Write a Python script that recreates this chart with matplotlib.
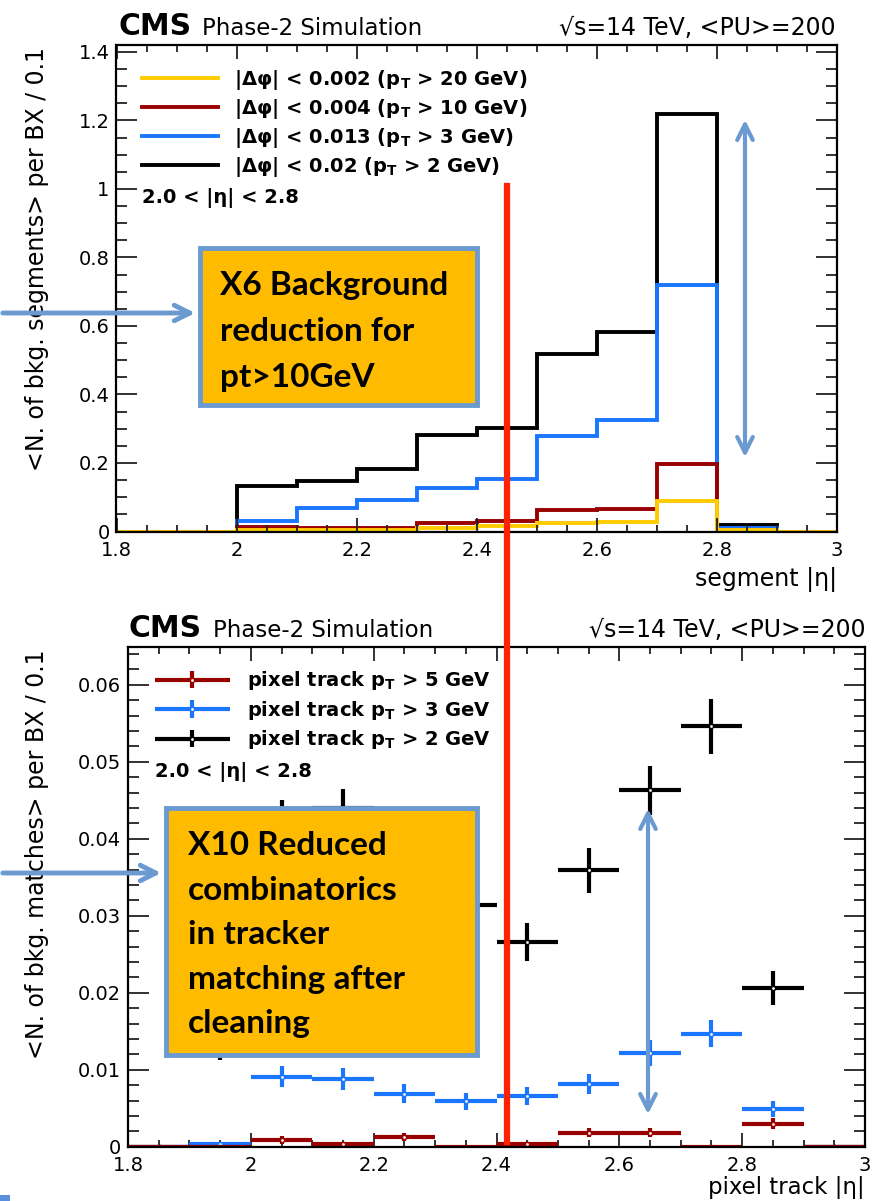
import matplotlib
matplotlib.use('Agg')
import matplotlib.pyplot as plt
from matplotlib.patches import Rectangle, FancyArrowPatch
from matplotlib.lines import Line2D
from matplotlib.ticker import MultipleLocator, FuncFormatter
from matplotlib.container import ErrorbarContainer
from matplotlib.legend_handler import HandlerErrorbar

plt.rcParams['font.family'] = ['DejaVu Sans']
plt.rcParams['mathtext.fontset'] = 'dejavusans'

W, H = 874, 1201

# top panel: background segments per eta bin
seg_edges = [1.8, 1.9, 2.0, 2.1, 2.2, 2.3, 2.4, 2.5, 2.6, 2.7, 2.8, 2.9, 3.0]
seg_dphi_0002 = [0, 0, 0.005, 0.003, 0.004, 0.010, 0.016, 0.026, 0.027, 0.089, 0.003, 0]
seg_dphi_0004 = [0, 0, 0.012, 0.009, 0.009, 0.024, 0.032, 0.063, 0.066, 0.198, 0.005, 0]
seg_dphi_0013 = [0, 0, 0.032, 0.068, 0.092, 0.126, 0.153, 0.280, 0.324, 0.720, 0.010, 0]
seg_dphi_002 = [0, 0, 0.132, 0.146, 0.182, 0.283, 0.302, 0.519, 0.583, 1.220, 0.018, 0]
seg_labels = [r'|Δφ| < 0.002 ($\mathbf{p}_{\mathbf{T}}$ > 20 GeV)',
              r'|Δφ| < 0.004 ($\mathbf{p}_{\mathbf{T}}$ > 10 GeV)',
              r'|Δφ| < 0.013 ($\mathbf{p}_{\mathbf{T}}$ > 3 GeV)',
              r'|Δφ| < 0.02 ($\mathbf{p}_{\mathbf{T}}$ > 2 GeV)']

# bottom panel: background matches per eta bin
trk_eta = [1.85, 1.95, 2.05, 2.15, 2.25, 2.35, 2.45, 2.55, 2.65, 2.75, 2.85, 2.95]
trk_pt5 = [0, 0, 0.0009, 0.0003, 0.0013, 0, 0.0003, 0.0018, 0.0018, 0, 0.0030, 0]
trk_pt5_err = [0, 0, 0.0005, 0.0003, 0.0005, 0, 0.0003, 0.0006, 0.0006, 0, 0.0007, 0]
trk_pt3 = [0, 0.0003, 0.0091, 0.0088, 0.0069, 0.0059, 0.0066, 0.0081, 0.0122, 0.0147, 0.0049, 0]
trk_pt3_err = [0, 0.0003, 0.0014, 0.0014, 0.0012, 0.0011, 0.0012, 0.0013, 0.0017, 0.0018, 0.0010, 0]
trk_pt2 = [0, 0.0145, 0.0425, 0.0440, 0.0380, 0.0314, 0.0266, 0.0359, 0.0463, 0.0546, 0.0206, 0]
trk_pt2_err = [0, 0.0032, 0.0025, 0.0025, 0.0024, 0.0023, 0.0025, 0.0029, 0.0032, 0.0036, 0.0022, 0]
trk_labels = [r'pixel track $\mathbf{p}_{\mathbf{T}}$ > 5 GeV',
              r'pixel track $\mathbf{p}_{\mathbf{T}}$ > 3 GeV',
              r'pixel track $\mathbf{p}_{\mathbf{T}}$ > 2 GeV']

c_yel, c_red, c_blue, c_blk = '#FFCC00', '#990000', '#1A75FF', 'black'
c_note = '#6A9AD0'
c_box = '#FFBB00'


def fx(x):
    return x / W


def fy(y):
    return 1 - y / H


def root_style(ax, xmaj, xmin, ymaj, ymin):
    ax.xaxis.set_major_locator(MultipleLocator(xmaj))
    ax.xaxis.set_minor_locator(MultipleLocator(xmin))
    ax.yaxis.set_major_locator(MultipleLocator(ymaj))
    ax.yaxis.set_minor_locator(MultipleLocator(ymin))
    fmt = FuncFormatter(lambda v, p: '%g' % round(v, 4))
    ax.xaxis.set_major_formatter(fmt)
    ax.yaxis.set_major_formatter(fmt)
    ax.tick_params(which='both', direction='in', top=True, right=True,
                   width=1.3, labelsize=14, color='#222222')
    ax.tick_params(axis='y', which='major', length=15, pad=5)
    ax.tick_params(axis='y', which='minor', length=8)
    ax.tick_params(axis='x', which='major', length=10, pad=7)
    ax.tick_params(axis='x', which='minor', length=5)
    for s in ax.spines.values():
        s.set_linewidth(1.6)


def header(y, x0, x1):
    fig.text(fx(x0), fy(y), 'CMS', fontsize=21.5, fontweight='bold', va='baseline')
    fig.text(fx(x0 + 84), fy(y), 'Phase-2 Simulation', fontsize=16.5, va='baseline')
    fig.text(fx(x1), fy(y), '√s=14 TeV, <PU>=200', fontsize=17, va='baseline', ha='right')


fig = plt.figure(figsize=(W / 100, H / 100), dpi=100)

# ---------- top panel ----------
ax1 = fig.add_axes([fx(116.5), fy(531.5), 720.5 / W, 486.5 / H])
h_blk = ax1.stairs(seg_dphi_002, seg_edges, color=c_blk, lw=2.8, label=seg_labels[3])
h_blue = ax1.stairs(seg_dphi_0013, seg_edges, color=c_blue, lw=2.8, label=seg_labels[2])
h_red = ax1.stairs(seg_dphi_0004, seg_edges, color=c_red, lw=2.8, label=seg_labels[1])
h_yel = ax1.stairs(seg_dphi_0002, seg_edges, color=c_yel, lw=2.8, label=seg_labels[0])
ax1.set_xlim(1.8, 3.0)
ax1.set_ylim(0, 1.42)
root_style(ax1, 0.2, 0.05, 0.2, 0.05)
ax1.legend(handles=[h_yel, h_red, h_blue, h_blk], loc='upper left',
           bbox_to_anchor=(0.035, 0.953), frameon=False, borderpad=0,
           borderaxespad=0, handlelength=3.9, handletextpad=0.85,
           labelspacing=0.26, prop={'size': 14, 'weight': 'bold'})
ax1.text(0.035, (531.5 - 203) / 486.5, '2.0 < |η| < 2.8', transform=ax1.transAxes,
         fontsize=14, fontweight='bold', va='baseline')
ax1.set_ylabel('<N. of bkg. segments> per BX / 0.1', loc='top', fontsize=17)
ax1.yaxis.set_label_coords(-0.094, 0.995)
ax1.set_xlabel('segment |η|', loc='right', fontsize=17)
ax1.xaxis.set_label_coords(1.0, -0.072)
header(35, 118, 836)

# ---------- bottom panel ----------
ax2 = fig.add_axes([fx(128), fy(1146.7), 737 / W, 499.7 / H])
e_blk = ax2.errorbar(trk_eta, trk_pt2, xerr=0.05, yerr=trk_pt2_err, fmt='o', ms=3,
                     mfc='white', mec=c_blk, color=c_blk, elinewidth=3, capsize=0,
                     label=trk_labels[2])
e_blue = ax2.errorbar(trk_eta, trk_pt3, xerr=0.05, yerr=trk_pt3_err, fmt='o', ms=3,
                      mfc='white', mec=c_blue, color=c_blue, elinewidth=3, capsize=0,
                      label=trk_labels[1])
e_red = ax2.errorbar(trk_eta, trk_pt5, xerr=0.05, yerr=trk_pt5_err, fmt='o', ms=3,
                     mfc='white', mec=c_red, color=c_red, elinewidth=3, capsize=0,
                     label=trk_labels[0])
ax2.set_xlim(1.8, 3.0)
ax2.set_ylim(0, 0.0649)
root_style(ax2, 0.2, 0.05, 0.01, 0.002)
ax2.legend(handles=[e_red, e_blue, e_blk], loc='upper left',
           bbox_to_anchor=(0.036, 0.955), frameon=False, borderpad=0,
           borderaxespad=0, handlelength=3.9, handletextpad=0.85,
           labelspacing=0.33, prop={'size': 14, 'weight': 'bold'},
           handler_map={ErrorbarContainer: HandlerErrorbar(xerr_size=1.95, yerr_size=0.45)})
ax2.text(0.036, (1146.7 - 777) / 499.7, '2.0 < |η| < 2.8', transform=ax2.transAxes,
         fontsize=14, fontweight='bold', va='baseline')
ax2.set_ylabel('<N. of bkg. matches> per BX / 0.1', loc='top', fontsize=17)
ax2.yaxis.set_label_coords(-0.107, 0.995)
ax2.set_xlabel('pixel track |η|', loc='right', fontsize=16.5)
ax2.xaxis.set_label_coords(1.0, -0.058)
header(637, 129, 866)

# ---------- slide annotations ----------
notes = [
    ((200, 248, 477, 405), 220, 295, 46, ['X6 Background', 'reduction for', 'pt>10GeV'], 313),
    ((166, 808, 477, 1055), 188, 855, 44.5,
     ['X10 Reduced', 'combinatorics', 'in tracker', 'matching after', 'cleaning'], 873),
]
for (x0, y0, x1, y1), tx, ty, dy, lines, ay in notes:
    fig.patches.append(Rectangle((fx(x0), fy(y1)), (x1 - x0) / W, (y1 - y0) / H,
                                 transform=fig.transFigure, facecolor=c_box,
                                 edgecolor=c_note, lw=3.5, zorder=5))
    for i, s in enumerate(lines):
        fig.text(fx(tx), fy(ty + i * dy), s, fontfamily='Lato', fontweight='bold',
                 fontsize=24, va='baseline', zorder=6)
    fig.patches.append(FancyArrowPatch((fx(0), fy(ay)), (fx(x0 - 2), fy(ay)),
                                       transform=fig.transFigure, arrowstyle='->',
                                       mutation_scale=28, lw=3.5, color=c_note, zorder=6))

# double arrows
fig.patches.append(FancyArrowPatch((fx(745), fy(460)), (fx(745), fy(117)),
                                   transform=fig.transFigure, arrowstyle='<->',
                                   mutation_scale=28, lw=3, color=c_note, zorder=6))
fig.patches.append(FancyArrowPatch((fx(648), fy(1117)), (fx(648), fy(806)),
                                   transform=fig.transFigure, arrowstyle='<->',
                                   mutation_scale=28, lw=3, color=c_note, zorder=6))

# red cut line across both panels
fig.lines.append(Line2D([fx(507), fx(507)], [fy(186), fy(1142)], transform=fig.transFigure,
                        color='#FF2200', lw=4.5, zorder=7))

fig.patches.append(Rectangle((0, 0), 10 / W, 6 / H, transform=fig.transFigure,
                             facecolor='#5A8FE0', edgecolor='none'))

fig.savefig('out.png', dpi=100)
